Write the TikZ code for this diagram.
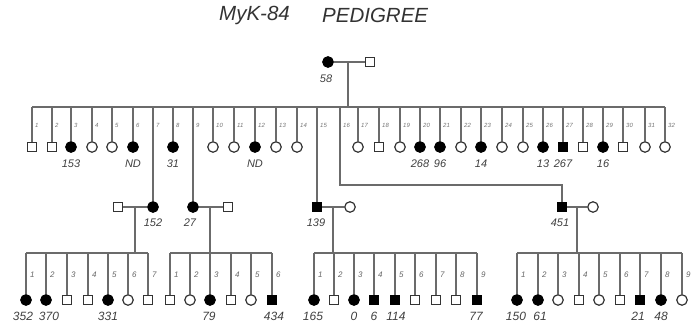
\documentclass[tikz,border=0pt]{standalone}
\usepackage{fontspec}
\setmainfont{Liberation Sans}
\begin{document}
\begin{tikzpicture}[x=1pt,y=-1pt,
  ln/.style={draw=black!58, line width=1.8pt},
  ind/.style={draw=black!80, line width=1.2pt, fill=white, inner sep=0pt},
  os/.style={ind, rectangle, minimum size=9pt},
  fs/.style={os, fill=black, draw=black},
  oc/.style={ind, circle, minimum size=10.5pt},
  fc/.style={oc, fill=black, draw=black},
  pid/.style={font=\itshape\fontsize{11}{11}\selectfont, text=black!75, inner sep=0pt},
  pidb/.style={font=\itshape\fontsize{12}{12}\selectfont, text=black!75, inner sep=0pt},
  sib/.style={font=\itshape\fontsize{6}{6}\selectfont, text=black!55, anchor=west, inner sep=0pt},
  sibb/.style={font=\itshape\fontsize{8}{8}\selectfont, text=black!60, anchor=west, inner sep=0pt},
  ttl/.style={font=\itshape\fontsize{20.5}{20.5}\selectfont, text=black!80, anchor=west, inner sep=0pt}]
\useasboundingbox (0,0) rectangle (697,327);

% title
\node[ttl] (t1) at (219,15) {MyK-84};
\node[ttl] (t2) at (322,15) {PEDIGREE};

% generation I
\node[fc] (p58) at (328,62) {};
\node[os] (p58s) at (370,62) {};
\node[pid] (l58) at (326,79) {58};
\draw[ln] (p58) -- (p58s);
\coordinate (m58) at (348,62);

% generation II bus
\foreach \i/\x in {1/32,2/52,3/71,4/92,5/112,6/133,7/153,8/173,9/193,10/213,11/234,12/255,13/276,14/297,15/317,16/340,17/358,18/379,19/400,20/420,21/440,22/461,23/481,24/502,25/523,26/543,27/563,28/583,29/603,30/623,31/645,32/665}{
  \coordinate (b2-\i) at (\x,107);
  \node[sib] (n2-\i) at (\x+3,125) {\i};
}
\draw[ln] (b2-1) -- (b2-32);
\draw[ln] (m58) -- (m58 |- b2-1);

\foreach \i/\x/\t/\l in {1/32/os/{},2/52/os/{},3/71/fc/153,4/92/oc/{},5/112/oc/{},6/133/fc/ND,8/173/fc/31,10/213/oc/{},11/234/oc/{},12/255/fc/ND,13/276/oc/{},14/297/oc/{},17/358/oc/{},18/379/os/{},19/400/oc/{},20/420/fc/268,21/440/fc/96,22/461/oc/{},23/481/fc/14,24/502/oc/{},25/523/oc/{},26/543/fc/13,27/563/fs/267,28/583/os/{},29/603/fc/16,30/623/os/{},31/645/oc/{},32/665/oc/{}}{
  \node[\t] (g2-\i) at (\x,147) {};
  \draw[ln] (b2-\i) -- (g2-\i);
  \node[pid] (l2-\i) at (\x,164) {\l};
}

% generation III couples
\node[os] (s152) at (118,207) {};
\node[fc] (p152) at (153,207) {};
\node[pid] (l152) at (153,223) {152};
\draw[ln] (s152) -- (p152);
\draw[ln] (b2-7) -- (p152);
\coordinate (mA) at (135,207);

\node[fc] (p27) at (193,207) {};
\node[os] (s27) at (228,207) {};
\node[pid] (l27) at (190,223) {27};
\draw[ln] (p27) -- (s27);
\draw[ln] (b2-9) -- (p27);
\coordinate (mB) at (210,207);

\node[fs] (p139) at (317,207) {};
\node[oc] (s139) at (350,207) {};
\node[pid] (l139) at (316,223) {139};
\draw[ln] (p139) -- (s139);
\draw[ln] (b2-15) -- (p139);
\coordinate (mC) at (333,207);

\node[fs] (p451) at (562,207) {};
\node[oc] (s451) at (593,207) {};
\node[pid] (l451) at (560,223) {451};
\draw[ln] (p451) -- (s451);
\coordinate (k16) at (340,185);
\draw[ln] (b2-16) -- (k16) -| (p451);
\coordinate (mD) at (577,207);

% generation IV buses
\coordinate (bA1) at (26,253);  \coordinate (bA2) at (148,253);
\coordinate (bB1) at (170,253); \coordinate (bB2) at (272,253);
\coordinate (bC1) at (314,253); \coordinate (bC2) at (477,253);
\coordinate (bD1) at (517,253); \coordinate (bD2) at (682,253);
\draw[ln] (bA1) -- (bA2);
\draw[ln] (bB1) -- (bB2);
\draw[ln] (bC1) -- (bC2);
\draw[ln] (bD1) -- (bD2);
\draw[ln] (mA) -- (mA |- bA1);
\draw[ln] (mB) -- (mB |- bB1);
\draw[ln] (mC) -- (mC |- bC1);
\draw[ln] (mD) -- (mD |- bD1);

\foreach \f/\i/\x/\t/\lx/\l in {
  A/1/26/fc/23/352, A/2/46/fc/49/370, A/3/67/os/67/{}, A/4/88/os/88/{}, A/5/108/fc/108/331, A/6/128/oc/128/{}, A/7/148/os/148/{},
  B/1/170/os/170/{}, B/2/190/oc/190/{}, B/3/210/fc/209/79, B/4/231/os/231/{}, B/5/251/oc/251/{}, B/6/272/fs/274/434,
  C/1/314/fc/313/165, C/2/334/os/334/{}, C/3/354/fc/354/0, C/4/374/fs/374/6, C/5/395/fs/396/114, C/6/415/os/415/{}, C/7/436/os/436/{}, C/8/456/os/456/{}, C/9/477/fs/476/77,
  D/1/517/fc/516/150, D/2/538/fc/540/61, D/3/558/oc/558/{}, D/4/579/os/579/{}, D/5/599/oc/599/{}, D/6/620/os/620/{}, D/7/640/fs/638/21, D/8/661/fc/661/48, D/9/682/oc/682/{}}{
  \coordinate (q\f-\i) at (\x,253);
  \node[\t] (c\f-\i) at (\x,300) {};
  \draw[ln] (q\f-\i) -- (c\f-\i);
  \node[sibb] (n\f-\i) at (\x+4,275) {\i};
  \node[pidb] (l\f-\i) at (\lx,316) {\l};
}
\end{tikzpicture}
\end{document}
